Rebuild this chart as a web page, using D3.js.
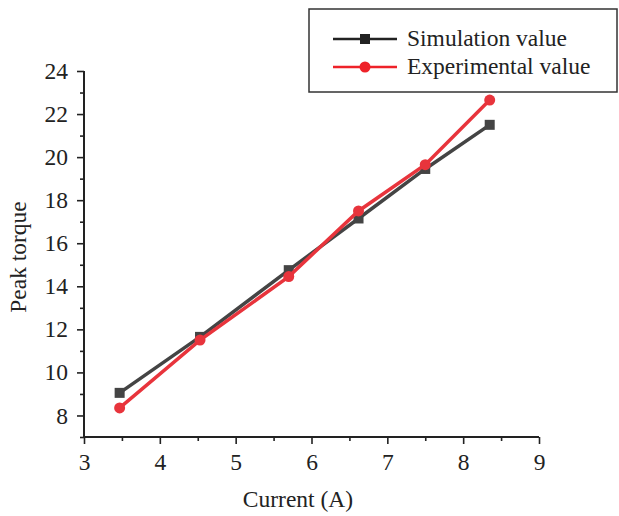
<!DOCTYPE html>
<html>
<head>
<meta charset="utf-8">
<script src="https://cdn.jsdelivr.net/npm/d3@7"></script>
<style>
  body { margin: 0; background: #fff; }
</style>
</head>
<body>
<svg id="plot" width="619" height="516"></svg>
<script>
var current = [3.47, 4.53, 5.7, 6.62, 7.5, 8.35]
var simValue = [9.05, 11.65, 14.75, 17.15, 19.45, 21.5]
var expValue = [8.35, 11.5, 14.45, 17.5, 19.65, 22.65]
var seriesNames = ["Simulation value", "Experimental value"]
var xTicks = [3, 4, 5, 6, 7, 8, 9]
var yTicks = [8, 10, 12, 14, 16, 18, 20, 22, 24]

var serif = "'Liberation Serif', 'Times New Roman', serif"
var fontSize = "23.5px"
var svg = d3.select("svg#plot").style("font-family", serif)

var x = d3.scaleLinear().domain([3, 9]).range([84, 539])
var y = d3.scaleLinear().domain([7, 24]).range([437, 71])

// minor ticks between the labelled ones
var xMinor = d3.range(3.5, 9, 1)
var yMinor = [7].concat(d3.range(9, 24, 2))

function styleAxis(g) {
  g.selectAll(".domain").remove()
  g.selectAll("line").attr("stroke-width", 1.6).attr("stroke", "#222")
  g.selectAll("text")
    .style("font-family", serif)
    .style("font-size", fontSize)
    .attr("fill", "#222")
}

svg.append("g").attr("transform", "translate(0,437)")
    .call(d3.axisBottom(x).tickValues(xMinor).tickSize(4).tickFormat(""))
    .call(styleAxis)
svg.append("g").attr("transform", "translate(0,437)")
    .call(d3.axisBottom(x).tickValues(xTicks).tickSize(7).tickPadding(9).tickFormat(d3.format("d")))
    .call(styleAxis)

svg.append("g").attr("transform", "translate(84,0)")
    .call(d3.axisLeft(y).tickValues(yMinor).tickSize(4).tickFormat(""))
    .call(styleAxis)
svg.append("g").attr("transform", "translate(84,0)")
    .call(d3.axisLeft(y).tickValues(yTicks).tickSize(7).tickPadding(9).tickFormat(d3.format("d")))
    .call(styleAxis)

// axis lines
svg.append("path").attr("d", "M84," + y(24) + "V" + y(7) + "H" + x(9))
    .attr("fill", "none").attr("stroke", "#222").attr("stroke-width", 2)

svg.append("text")
    .attr("transform", "translate(26,257) rotate(-90)")
    .attr("text-anchor", "middle")
    .style("font-size", fontSize).attr("fill", "#222")
    .text("Peak torque")

svg.append("text")
    .attr("x", 298).attr("y", 507)
    .attr("text-anchor", "middle")
    .style("font-size", fontSize).attr("fill", "#222")
    .text("Current (A)")

var line = d3.line().x(d => x(d[0])).y(d => y(d[1]))

var simData = current.map((c, i) => [c, simValue[i]])
var expData = current.map((c, i) => [c, expValue[i]])

var plot = svg.append("g")

plot.append("path").datum(simData)
    .attr("fill", "none").attr("stroke", "#444").attr("stroke-width", 3.5)
    .attr("d", line)
plot.selectAll("rect.sim").data(simData).enter().append("rect")
    .attr("class", "sim")
    .attr("x", d => x(d[0]) - 5).attr("y", d => y(d[1]) - 5)
    .attr("width", 10).attr("height", 10)
    .attr("fill", "#444")

plot.append("path").datum(expData)
    .attr("fill", "none").attr("stroke", "#e8343c").attr("stroke-width", 3.5)
    .attr("d", line)
plot.selectAll("circle.exp").data(expData).enter().append("circle")
    .attr("class", "exp")
    .attr("cx", d => x(d[0])).attr("cy", d => y(d[1]))
    .attr("r", 5.5)
    .attr("fill", "#e8343c")

// legend
var legend = svg.append("g")
legend.append("rect")
    .attr("x", 309).attr("y", 9).attr("width", 308).attr("height", 83)
    .attr("fill", "#fff").attr("stroke", "#333").attr("stroke-width", 1.5)

var legColors = ["#222", "#ee2229"]
seriesNames.forEach((name, i) => {
  var ly = 39 + i * 28
  legend.append("line")
      .attr("x1", 333).attr("x2", 397).attr("y1", ly).attr("y2", ly)
      .attr("stroke", legColors[i]).attr("stroke-width", 2.5)
  if (i == 0) {
    legend.append("rect").attr("x", 360).attr("y", ly - 5).attr("width", 10).attr("height", 10)
        .attr("fill", legColors[i])
  } else {
    legend.append("circle").attr("cx", 365).attr("cy", ly).attr("r", 5.5).attr("fill", legColors[i])
  }
  legend.append("text")
      .attr("x", 407).attr("y", ly + 7)
      .style("font-size", fontSize).attr("fill", "#222")
      .text(name)
})
</script>
</body>
</html>
